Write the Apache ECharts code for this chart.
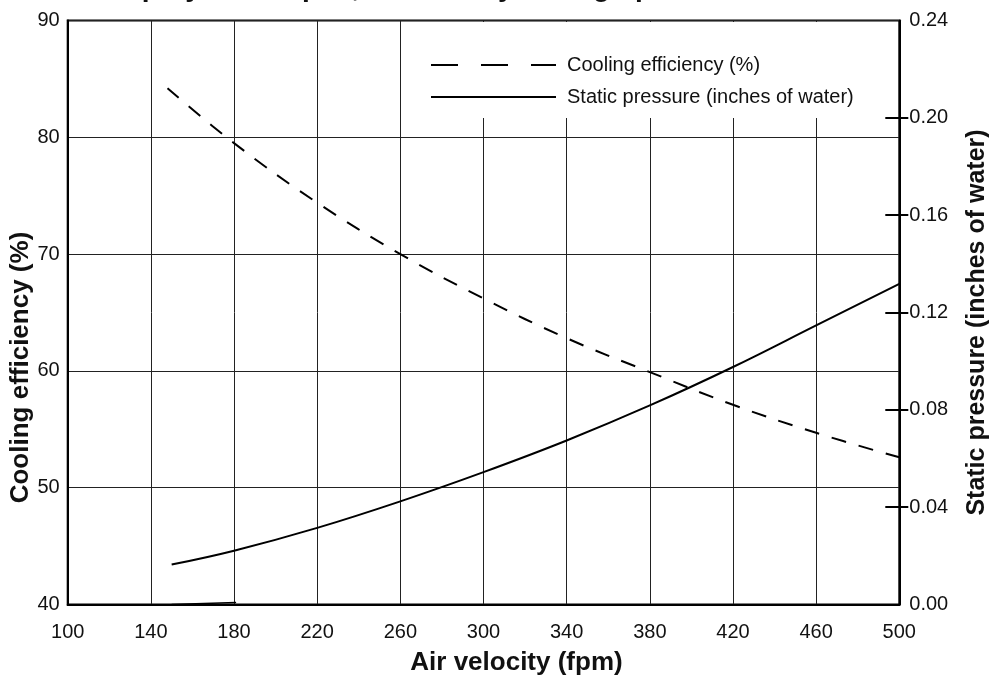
<!DOCTYPE html>
<html>
<head>
<meta charset="utf-8">
<script src="https://cdn.jsdelivr.net/npm/echarts@6/dist/echarts.min.js"></script>
<style>
html,body{margin:0;padding:0;background:#fff;}
#chart{width:990px;height:680px;}
</style>
</head>
<body>
<div id="chart"></div>
<script>
// ---- data ----
const titleText = 'Spray nozzle pad, air velocity through pad';
const xAxisName = 'Air velocity (fpm)';
const leftAxisName = 'Cooling efficiency (%)';
const rightAxisName = 'Static pressure (inches of water)';
const effName = 'Cooling efficiency (%)';
const presName = 'Static pressure (inches of water)';

const effVelocity = [148, 180, 220, 260, 300, 340, 380, 420, 460, 500];
const efficiency  = [84.2, 79.5, 74.4, 70.0, 66.2, 62.8, 59.9, 57.1, 54.7, 52.6];

const presVelocity = [150, 180, 220, 260, 300, 340, 380, 420, 460, 500];
const pressure     = [0.0164, 0.0221, 0.0315, 0.0424, 0.0544, 0.0674, 0.0818, 0.0976, 0.1147, 0.1318];

const stubVelocity = [150, 181];
const stubPressure = [0, 0.0008];

const xMin = 100, xMax = 500, xStep = 40;
const leftMin = 40, leftMax = 90, leftStep = 10;
const rightMin = 0, rightMax = 0.24, rightStep = 0.04;
const rightTickMarks = [0.04, 0.08, 0.12, 0.16, 0.20];

// ---- chart ----
const FONT = "'Liberation Sans', Arial, Helvetica, sans-serif";
const zip = (a, b) => a.map((v, i) => [v, b[i]]);

const chart = echarts.init(document.getElementById('chart'), null, {renderer: 'canvas'});

const option = {
  backgroundColor: '#ffffff',
  animation: false,
  textStyle: {fontFamily: FONT, color: '#111'},
  graphic: [{
    type: 'text', left: 123, top: -26, silent: true,
    style: {text: titleText, font: 'bold 28px ' + FONT, fill: '#111'}
  }],
  grid: {
    left: 67.7, right: 90.7, top: 20.5, bottom: 75.5,
    outerBoundsMode: 'none', containLabel: false,
    show: true, borderColor: '#000', borderWidth: 2, backgroundColor: 'transparent'
  },
  legend: {
    orient: 'vertical', left: 407, top: 22,
    backgroundColor: '#ffffff',
    padding: [33, 30, 11, 23],
    itemWidth: 125, itemHeight: 14, itemGap: 12,
    selectedMode: false,
    textStyle: {fontSize: 20, color: '#111', fontFamily: FONT, padding: [0, 0, 0, 6]},
    data: [
      {name: effName, itemStyle: {opacity: 0}, lineStyle: {type: [27, 23], width: 2, color: '#000'}},
      {name: presName, itemStyle: {opacity: 0}, lineStyle: {type: 'solid', width: 2, color: '#000'}}
    ]
  },
  xAxis: {
    type: 'value', min: xMin, max: xMax, interval: xStep,
    name: xAxisName, nameLocation: 'middle', nameGap: 45, nameMoveOverlap: false,
    nameTextStyle: {fontSize: 26, fontWeight: 'bold', color: '#111', fontFamily: FONT,
                    padding: [0, 0, 0, 66]},
    axisLine: {show: true, lineStyle: {color: '#000', width: 2}},
    axisTick: {show: false},
    axisLabel: {fontSize: 20, color: '#111', margin: 18, fontFamily: FONT},
    splitLine: {show: true, lineStyle: {color: '#222', width: 1}}
  },
  yAxis: [
    {
      type: 'value', min: leftMin, max: leftMax, interval: leftStep, position: 'left',
      name: leftAxisName, nameLocation: 'middle', nameGap: 34, nameRotate: 90, nameMoveOverlap: false,
      nameTextStyle: {fontSize: 26, fontWeight: 'bold', color: '#111', fontFamily: FONT,
                      padding: [0, 110, 0, 0]},
      axisLine: {show: true, lineStyle: {color: '#000', width: 2}},
      axisTick: {show: false},
      axisLabel: {fontSize: 20, color: '#111', margin: 8, fontFamily: FONT},
      splitLine: {show: true, lineStyle: {color: '#222', width: 1}}
    },
    {
      type: 'value', min: rightMin, max: rightMax, interval: rightStep, position: 'right',
      name: rightAxisName, nameLocation: 'middle', nameGap: 65, nameRotate: 90, nameMoveOverlap: false,
      nameTextStyle: {fontSize: 25, fontWeight: 'bold', color: '#111', fontFamily: FONT,
                      padding: [0, 20, 0, 0]},
      axisLine: {show: true, lineStyle: {color: '#000', width: 2}},
      axisTick: {show: true, inside: false, length: 9, customValues: rightTickMarks,
                 lineStyle: {color: '#000', width: 2}},
      axisLabel: {fontSize: 20, color: '#111', margin: 10, fontFamily: FONT,
                  formatter: v => v.toFixed(2)},
      splitLine: {show: false}
    },
    {
      type: 'value', min: rightMin, max: rightMax, interval: rightStep, position: 'right',
      axisLine: {show: false},
      axisTick: {show: true, inside: true, length: 14, customValues: rightTickMarks,
                 lineStyle: {color: '#000', width: 2}},
      axisLabel: {show: false},
      splitLine: {show: false}
    }
  ],
  series: [
    {
      name: effName, type: 'line', yAxisIndex: 0,
      data: zip(effVelocity, efficiency),
      smooth: 0.4, symbol: 'none', showSymbol: false,
      lineStyle: {color: '#000', width: 2, type: [15, 13]},
      itemStyle: {color: '#000'}
    },
    {
      name: presName, type: 'line', yAxisIndex: 1,
      data: zip(presVelocity, pressure),
      smooth: 0.4, symbol: 'none', showSymbol: false,
      lineStyle: {color: '#000', width: 2, type: 'solid'},
      itemStyle: {color: '#000'}
    },
    {
      name: 'stub', type: 'line', yAxisIndex: 1,
      data: zip(stubVelocity, stubPressure),
      symbol: 'none', showSymbol: false,
      lineStyle: {color: '#000', width: 1.5}
    }
  ]
};
chart.setOption(option);
</script>
</body>
</html>
